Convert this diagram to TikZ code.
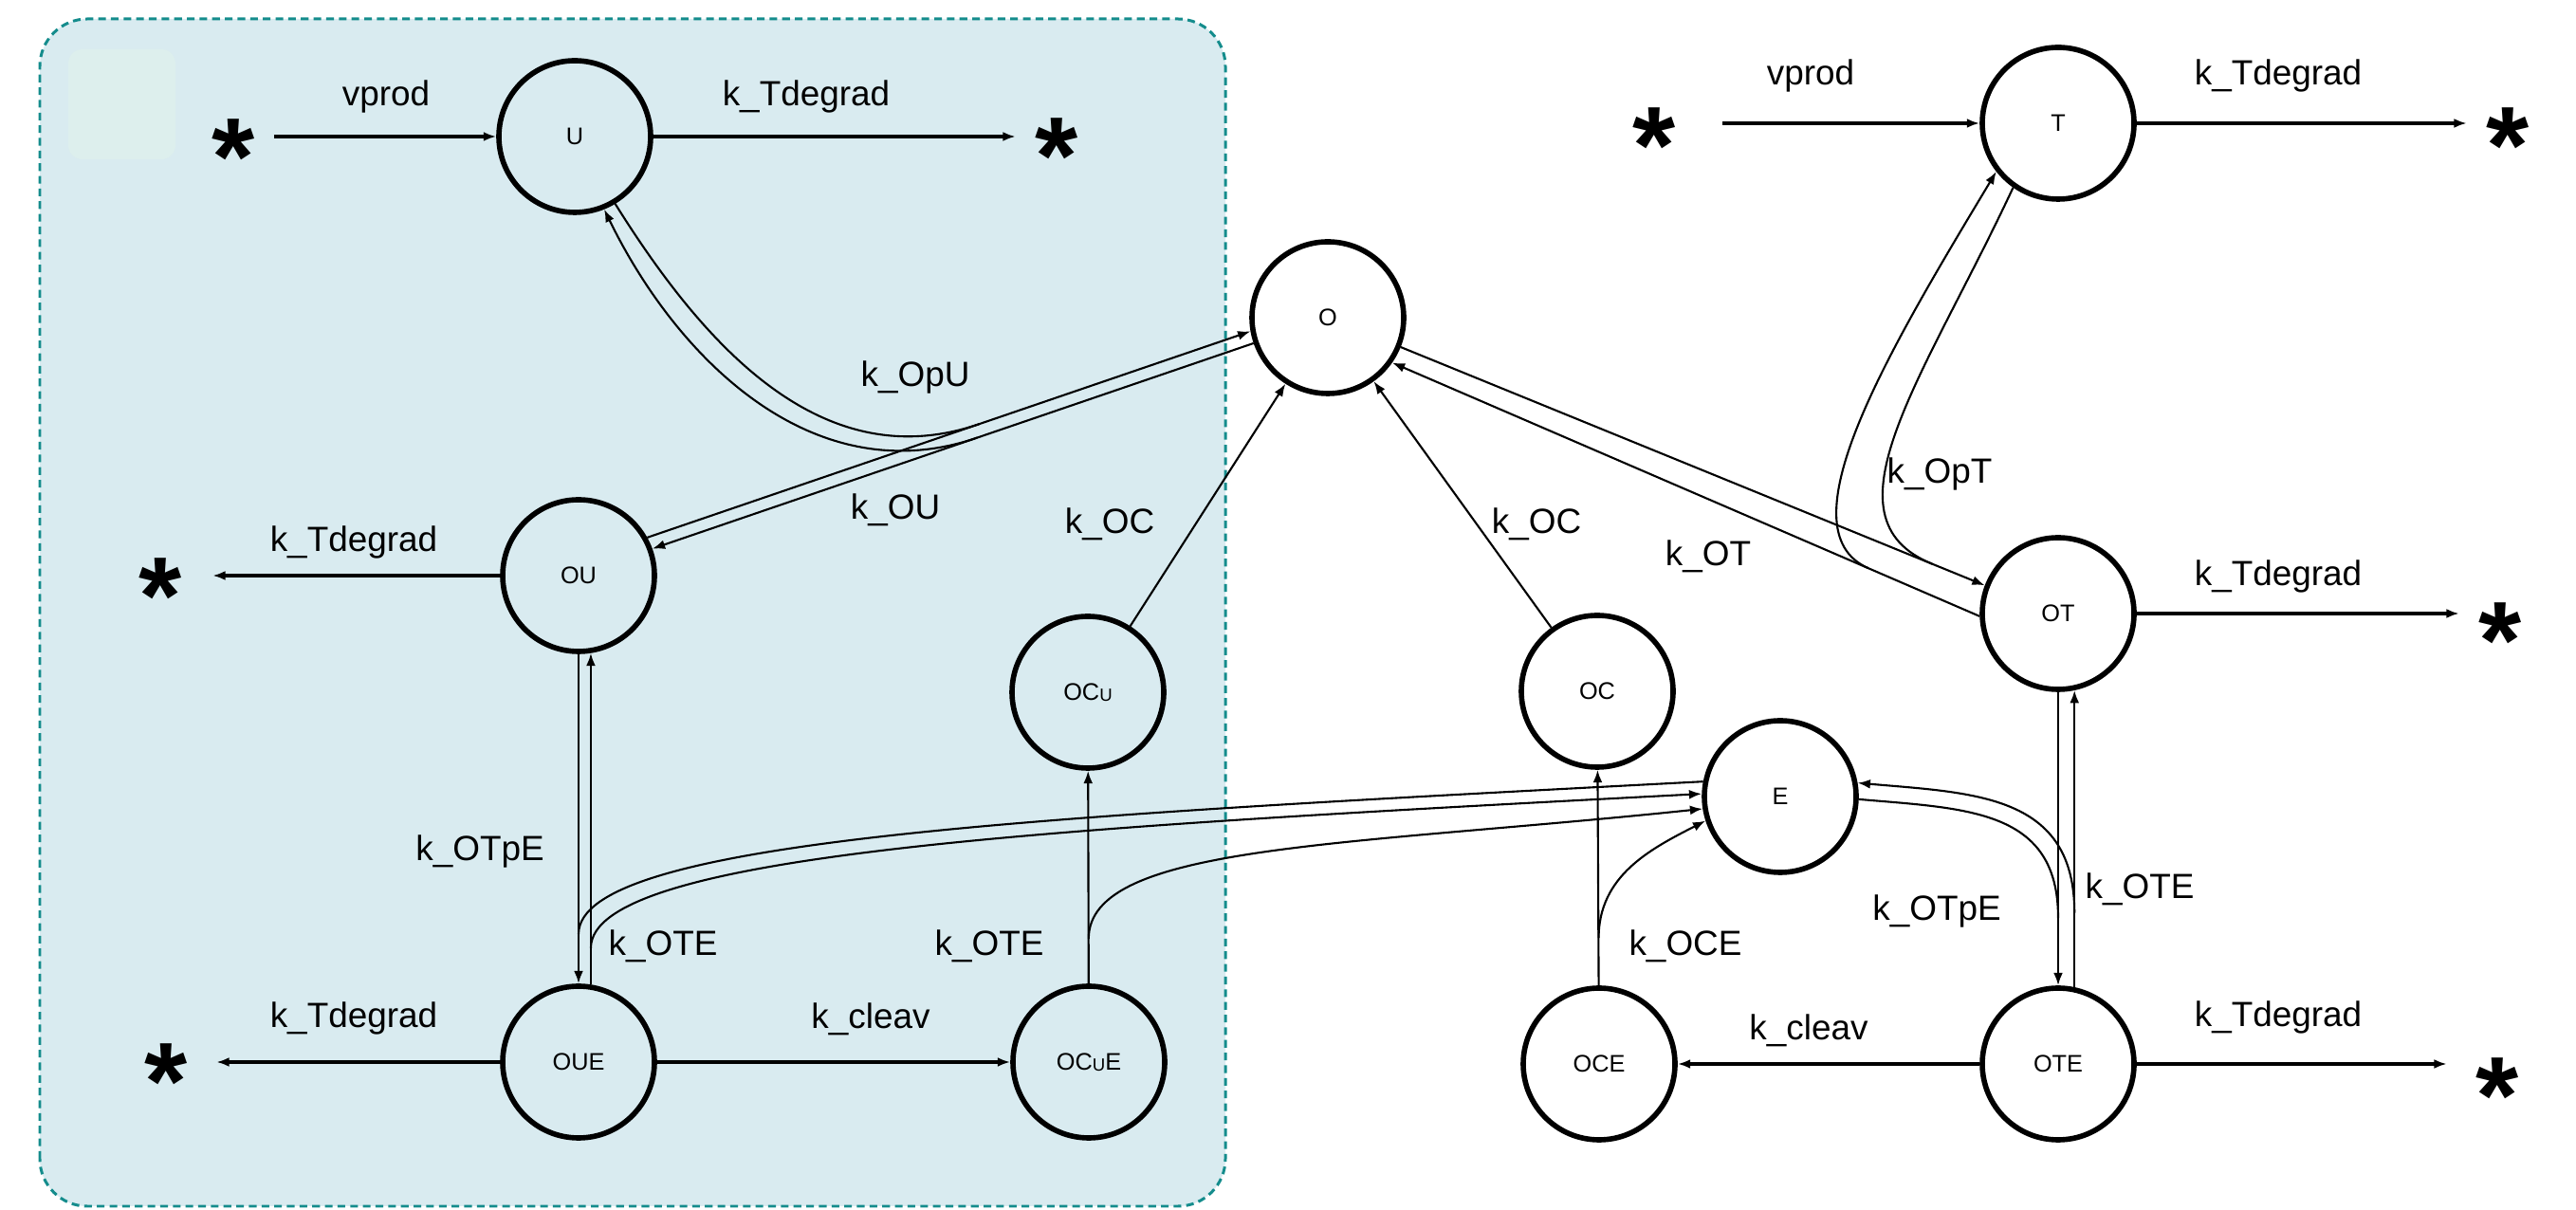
\documentclass[tikz,border=0pt]{standalone}
\usepackage{fontspec}
\setmainfont{Liberation Sans}
\usetikzlibrary{arrows.meta,calc}

\definecolor{boxfill}{RGB}{217,235,240}
\definecolor{boxedge}{RGB}{20,140,140}
\definecolor{tagfill}{RGB}{221,239,237}

\newcommand{\usub}{\raisebox{-0.4pt}{\fontsize{5.3}{6}\selectfont U}}

\begin{document}
\begin{tikzpicture}[>={Latex[length=3.8pt,width=2.8pt]},
    spc/.style={circle,draw,line width=1.6pt,minimum size=1.6cm,inner sep=0pt,font=\fontsize{7.2}{8}\selectfont},
    asterisk/.style={inner sep=0pt,minimum width=0.85cm,text height=23.6pt,text depth=-13.8pt,yshift=-0.17cm,font=\fontsize{33}{33}\selectfont\bfseries},
    lbl/.style={inner sep=0pt,font=\fontsize{10.5}{12}\selectfont},
    flow/.style={->,line width=0.9pt},
    rxn/.style={line width=0.6pt}]
  \useasboundingbox (0,0) rectangle (27.16,12.76);

  % shaded U region
  \filldraw[fill=boxfill,draw=boxedge,line width=0.85pt,dash pattern=on 2.3pt off 1.5pt,rounded corners=0.5cm]
    (0.42,0.04) rectangle (12.92,12.56);
  \fill[tagfill,rounded corners=0.15cm] (0.72,11.08) rectangle (1.85,12.24);

  % species
  \node[spc] (U) at (6.06,11.32) {U};
  \node[spc] (O) at (14.00,9.41) {O};
  \node[spc] (T) at (21.70,11.46) {T};
  \node[spc] (OU) at (6.10,6.69) {OU};
  \node[spc] (OT) at (21.70,6.29) {OT};
  \node[spc] (OCu) at (11.47,5.46) {OC\usub};
  \node[spc] (OC) at (16.84,5.47) {OC};
  \node[spc] (E) at (18.77,4.36) {E};
  \node[spc] (OUE) at (6.10,1.56) {OUE};
  \node[spc] (OCuE) at (11.48,1.56) {OC\usub E};
  \node[spc] (OCE) at (16.86,1.54) {OCE};
  \node[spc] (OTE) at (21.70,1.54) {OTE};

  % sources and sinks
  \node[asterisk] (s1) at (2.46,11.29) {*};
  \node[asterisk] (s2) at (11.14,11.30) {*};
  \node[asterisk] (s3) at (17.44,11.41) {*};
  \node[asterisk] (s4) at (26.44,11.41) {*};
  \node[asterisk] (s5) at (1.69,6.66) {*};
  \node[asterisk] (s6) at (26.36,6.19) {*};
  \node[asterisk] (s7) at (1.75,1.54) {*};
  \node[asterisk] (s8) at (26.33,1.39) {*};

  % production, degradation, cleavage
  \draw[flow] (s1.east |- U) -- (U);
  \draw[flow] (U) -- (s2.west |- U);
  \draw[flow,shorten <=0.29cm] (s3.east |- T) -- (T);
  \draw[flow] (T) -- (s4.west |- T);
  \draw[flow,shorten >=0.12cm] (OU) -- (s5.east |- OU);
  \draw[flow] (OT) -- (s6.west |- OT);
  \draw[flow,shorten >=0.1cm] (OUE) -- (s7.east |- OUE);
  \draw[flow,shorten >=0.1cm] (OTE) -- (s8.west |- OTE);
  \draw[flow] (OUE) -- (OCuE);
  \draw[flow] (OTE) -- (OCE);

  % binding and release
  \draw[rxn,->] (OU.29) -- (O.190);
  \draw[rxn,->] (O.199) -- (OU.20);
  \draw[rxn,->] (O.-22) -- (OT.159);
  \draw[rxn,->] (OT.182) -- (O.-35);
  \draw[rxn,->] (OCu) -- (O);
  \draw[rxn,->] (OC) -- (O);
  \draw[rxn,->] (OU.270) -- (OUE.90);
  \draw[rxn,->] (OUE.81) -- (OU.279);
  \draw[rxn,->] (OT.270) -- (OTE.90);
  \draw[rxn,->] (OTE.78) -- (OT.282);
  \draw[rxn,->] (OCuE) -- (OCu);
  \draw[rxn,->] (OCE) -- (OC);

  % branches joining the straight reactions
  \coordinate (m1) at ($(OU.29)!0.55!(O.190)$);
  \coordinate (m2) at ($(OU.20)!0.54!(O.199)$);
  \draw[rxn] (U.301) to[out=-58,in=199] (m1);
  \draw[rxn,->] (m2) to[out=199,in=-64] (U.292);

  \coordinate (m3) at ($(OT.182)!0.19!(O.-35)$);
  \coordinate (m4) at ($(O.-22)!0.91!(OT.159)$);
  \draw[rxn,->] (m3) to[out=156,in=239,out distance=1cm,in distance=2.2cm] (T.218);
  \draw[rxn] (T.235) to[out=245,in=158,out distance=2.2cm,in distance=1.3cm] (m4);

  \coordinate (m5) at ($(OU.270)!0.85!(OUE.90)$);
  \coordinate (m6) at ($(OUE.81)!0.11!(OU.279)$);
  \draw[rxn] (m5) to[out=90,in=183,out distance=1cm,in distance=7cm] (E.169);
  \draw[rxn,->] (m6) to[out=90,in=183,out distance=1cm,in distance=6.85cm] (E.178);

  \coordinate (m7) at ($(OCuE.90)!0.21!(OCu.270)$);
  \coordinate (m8) at ($(OCE.90)!0.22!(OC.270)$);
  \draw[rxn,->] (m7) to[out=90,in=186,out distance=1cm,in distance=3.8cm] (E.189);
  \draw[rxn,->] (m8) to[out=90,in=207] (E.198);

  \coordinate (m9) at ($(OTE.78)!0.25!(OT.282)$);
  \coordinate (m10) at ($(OT.270)!0.77!(OTE.90)$);
  \draw[rxn,->] (m9) to[out=90,in=-5,looseness=1.2] (E.10);
  \draw[rxn] (E.-2) to[out=-5,in=90,looseness=1.2] (m10);

  % rate labels
  \node[lbl] (vpU) at (4.07,11.74) {vprod};
  \node[lbl] (dgU) at (8.50,11.74) {k\_Tdegrad};
  \node[lbl] (kOpU) at (9.65,8.78) {k\_OpU};
  \node[lbl] (kOU) at (9.44,7.38) {k\_OU};
  \node[lbl] (kOCu) at (11.70,7.23) {k\_OC};
  \node[lbl] (dgOU) at (3.73,7.04) {k\_Tdegrad};
  \node[lbl] (kOC) at (16.20,7.23) {k\_OC};
  \node[lbl] (kOT) at (18.01,6.89) {k\_OT};
  \node[lbl] (kOpT) at (20.45,7.76) {k\_OpT};
  \node[lbl] (vpT) at (19.09,11.96) {vprod};
  \node[lbl] (dgT) at (24.02,11.96) {k\_Tdegrad};
  \node[lbl] (dgOT) at (24.02,6.68) {k\_Tdegrad};
  \node[lbl] (kOTpEu) at (5.06,3.78) {k\_OTpE};
  \node[lbl] (kOTEu) at (6.99,2.78) {k\_OTE};
  \node[lbl] (kOTEc) at (10.43,2.78) {k\_OTE};
  \node[lbl] (dgOUE) at (3.73,2.02) {k\_Tdegrad};
  \node[lbl] (clU) at (9.18,2.01) {k\_cleav};
  \node[lbl] (kOCE) at (17.77,2.78) {k\_OCE};
  \node[lbl] (kOTpEt) at (20.42,3.15) {k\_OTpE};
  \node[lbl] (kOTEt) at (22.56,3.38) {k\_OTE};
  \node[lbl] (clT) at (19.07,1.89) {k\_cleav};
  \node[lbl] (dgOTE) at (24.02,2.03) {k\_Tdegrad};
\end{tikzpicture}
\end{document}
